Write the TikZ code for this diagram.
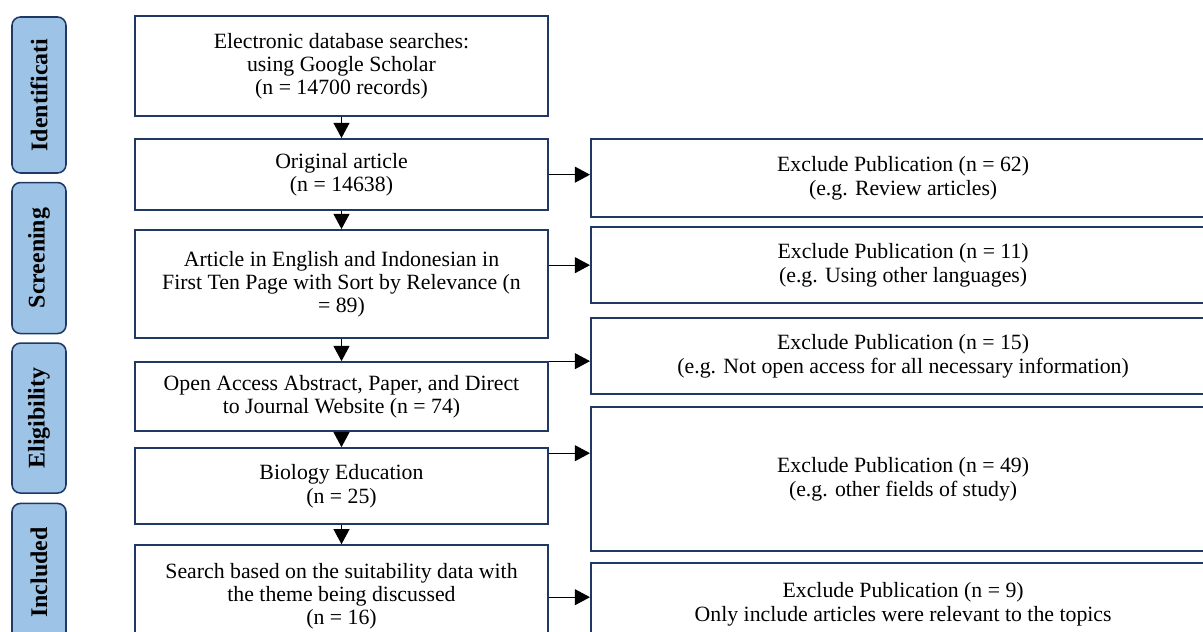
\documentclass[tikz,border=0pt]{standalone}
\usepackage{fontspec}
\setmainfont{Liberation Serif}
\usepackage{graphicx}
\usetikzlibrary{arrows.meta, positioning, calc}
\definecolor{prnavy}{HTML}{1F3864}
\definecolor{prsky}{HTML}{9DC3E6}

\begin{document}
\begin{tikzpicture}[
    node distance=0.5cm,
    stage/.style={rectangle, draw=prnavy, fill=prsky, line width=1.1pt, rounded corners=6pt, minimum width=1.35cm, font=\fontsize{17}{19}\selectfont\bfseries},
    flowbox/.style={rectangle, draw=prnavy, line width=1.6pt, minimum width=10.325cm, align=center, font=\fontsize{15.5}{16.5}\selectfont},
    exbox/.style={rectangle, draw=prnavy, line width=1.6pt, minimum width=15.6cm, minimum height=1.9cm, align=center, font=\fontsize{15.5}{17}\selectfont},
    arrow/.style={-{Triangle[length=0.38cm, width=0.4cm]}, line width=0.8pt, draw=black}
  ]
  \clip (0,0) rectangle (30.075,-15.8);

  % stages
  \node[stage, minimum height=3.9cm] (ident) at (0.975,-2.375) {\rotatebox{90}{Identificati}};
  \node[stage, minimum height=3.775cm, below=0.2cm of ident] (screen) {\rotatebox{90}{Screening}};
  \node[stage, minimum height=3.75cm, below=0.2cm of screen] (elig) {\rotatebox{90}{Eligibility}};
  \node[stage, minimum height=3.45cm, below=0.22cm of elig] (incl) {\rotatebox{90}{Included}};

  % main flow
  \node[flowbox, minimum height=2.5cm, anchor=north] (search) at (8.5375,-0.375) {Electronic database searches:\\ using Google Scholar\\ (n = 14700 records)};
  \node[flowbox, minimum height=1.775cm, below=0.52cm of search] (orig) {Original article\\ (n = 14638)};
  \node[flowbox, minimum height=2.7cm, below=0.445cm of orig] (lang) {Article in English and Indonesian in\\ First Ten Page with Sort by Relevance (n\\ = 89)};
  \node[flowbox, minimum height=1.725cm, below=0.545cm of lang] (access) {Open Access Abstract, Paper, and Direct\\ to Journal Website (n = 74)};
  \node[flowbox, minimum height=1.9cm, below=0.37cm of access] (bio) {Biology Education\\ (n = 25)};
  \node[flowbox, minimum height=2.55cm, below=0.47cm of bio] (theme) {Search based on the suitability data with\\ the theme being discussed\\ (n = 16)};

  % exclusions
  \node[exbox, minimum height=1.95cm, anchor=north west] (ex1) at (14.75,-3.45) {Exclude Publication (n = 62)\\ (e.g. Review articles)};
  \node[exbox, below=0.195cm of ex1] (ex2) {Exclude Publication (n = 11)\\ (e.g. Using other languages)};
  \node[exbox, below=0.32cm of ex2] (ex3) {Exclude Publication (n = 15)\\ (e.g. Not open access for all necessary information)};
  \node[exbox, minimum height=3.6cm, below=0.27cm of ex3] (ex4) {Exclude Publication (n = 49)\\ (e.g. other fields of study)};
  \node[exbox, minimum height=2.05cm, below=0.245cm of ex4] (ex5) {Exclude Publication (n = 9)\\ Only include articles were relevant to the topics};

  \coordinate (bioout) at ($(bio.north east)+(0,-0.15)$);
  \coordinate (themeout) at ($(ex5.north west)+(0,-0.875)$);

  \draw[arrow] (search) -- (orig);
  \draw[arrow] (orig) -- (lang);
  \draw[arrow] (lang) -- (access);
  \draw[arrow] (access) -- (bio);
  \draw[arrow] (bio) -- (theme);

  \draw[arrow] (orig.east) -- (orig.east -| ex1.west);
  \draw[arrow] (lang.east |- ex2.west) -- (ex2.west);
  \draw[arrow] (access.north east) -- (access.north east -| ex3.west);
  \draw[arrow] (bioout) -- (bioout -| ex4.west);
  \draw[arrow] (theme.east |- themeout) -- (themeout);
\end{tikzpicture}
\end{document}
